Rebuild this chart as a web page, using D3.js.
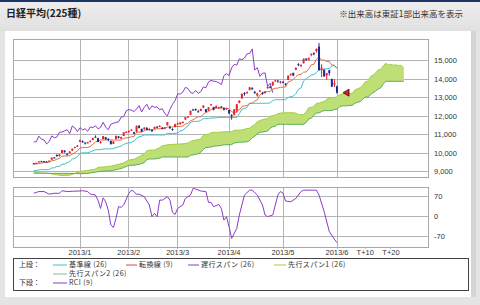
<!DOCTYPE html>
<html><head><meta charset="utf-8">
<script src="https://cdn.jsdelivr.net/npm/d3@7"></script>
<style>
html,body{margin:0;padding:0;}
body{width:480px;height:305px;overflow:hidden;background:#e4e4e4;}
svg{display:block;}
</style></head><body>
<svg id="c" width="480" height="305"></svg>
<script>
// ---- data (daily, index 0 = 2012/12/4 ... 118 = 2013/6/3) ----
const openP = [9440,9420,9500,9560,9560,9540,9560,9640,9760,9900,9840,10000,10130,9960,10000,10130,10280,10340,
10600,10640,10560,10540,10610,10700,10880,10800,10550,10750,10850,10760,10650,10500,10750,10900,10780,10920,11120,
11150,11250,11130,11150,11480,11300,11300,11350,11250,11250,11310,11430,11420,11380,11330,11500,11400,11300,11400,
11580,11560,11620,11810,11940,12060,12350,12380,12250,12280,12450,12370,12300,12590,12480,12430,12440,12510,12420,12380,
12320,12050,12050,12300,12700,12950,13250,13250,13400,13520,13300,13100,13320,13250,13250,13500,13590,13650,13900,13920,13800,
13850,13750,13950,14250,14330,14500,14800,14700,14850,15100,15050,15300,15400,15500,15750,14500,14500,14200,14470,14000,13700,
13600];
const highP = [9460,9480,9560,9580,9570,9560,9600,9760,9780,9920,9940,10170,10150,9990,10100,10240,10340,10430,
10734,10680,10580,10600,10680,10830,10950,10820,10650,10920,10870,10800,10660,10640,10940,10920,10880,11130,11180,
11220,11300,11140,11490,11500,11320,11400,11400,11330,11260,11430,11440,11500,11390,11400,11670,11480,11330,11580,
11640,11660,11700,11940,12000,12290,12390,12400,12320,12400,12580,12380,12480,12650,12500,12560,12500,12530,12460,12420,
12330,12100,12370,12650,12850,13220,13280,13330,13570,13550,13360,13250,13400,13300,13330,13580,13610,13860,13960,13930,13900,
13880,13770,14190,14290,14340,14620,14850,14790,15100,15120,15160,15380,15440,15650,15942,14800,14520,14340,14500,14020,13990,
13650];
const lowP = [9410,9410,9480,9500,9500,9500,9540,9630,9710,9800,9800,9990,10020,9860,9970,10110,10250,10320,
10590,10550,10460,10510,10580,10690,10840,10580,10500,10740,10720,10630,10450,10480,10740,10780,10760,10910,11080,
11090,11200,11020,11130,11330,11130,11250,11220,11200,11140,11300,11340,11400,11280,11290,11480,11300,11200,11390,
11520,11530,11600,11800,11900,12050,12290,12280,12200,12260,12430,12200,12290,12560,12300,12420,12400,12430,12300,12340,
12120,11805,12040,12180,12690,12940,13100,13200,13390,13400,13200,13050,13300,13150,13200,13480,13490,13630,13850,13800,13750,
13770,13640,13940,14160,14150,14480,14700,14650,14840,14980,15000,15230,15280,15430,14450,14100,14120,13950,14180,13560,13560,
13210];
const closeP = [9432,9468,9545,9527,9533,9525,9581,9743,9737,9828,9924,10160,10039,9940,10080,10230,10322,10395,
10688,10599,10508,10578,10652,10801,10879,10600,10610,10913,10747,10709,10487,10620,10926,10824,10866,11113,11138,
11191,11260,11046,11463,11357,11153,11369,11251,11307,11173,11407,11372,11468,11309,11385,11662,11398,11253,11559,
11606,11652,11683,11932,11968,12283,12349,12314,12239,12381,12560,12220,12468,12635,12338,12546,12471,12493,12336,12397,
12135,12003,12362,12634,12833,13192,13192,13288,13549,13485,13275,13221,13382,13220,13316,13568,13529,13843,13926,13884,13860,
13799,13694,14180,14285,14191,14607,14782,14758,15096,15037,15138,15360,15381,15627,14483,14612,14142,14311,14326,13589,13774,
13261];
// 転換線 (9)
const tenkan = [9400,9410,9420,9450,9480,9490,9510,9585,9595,9665,9710,9835,9835,9835,9855,9935,10025,10115,
10267,10297,10297,10297,10352,10470,10600,10635,10705,10705,10705,10725,10700,10700,10700,10695,10695,10790,10815,
10835,10875,10890,11115,11130,11130,11205,11260,11260,11260,11260,11315,11315,11315,11320,11405,11405,11405,11435,
11435,11435,11450,11570,11600,11745,11795,11895,11960,11965,12090,12190,12240,12350,12425,12425,12425,12425,12425,12425,
12385,12228,12183,12228,12328,12513,12543,12568,12688,12688,12805,12875,13130,13255,13310,13315,13330,13455,13505,13505,13555,
13555,13580,13835,13890,13985,14130,14245,14245,14370,14380,14550,14765,14795,15065,15196,15021,15021,14946,14946,14751,14751,
14576];
// 基準線 (26)
const kijun = [9050,9050,9090,9100,9100,9100,9110,9190,9200,9270,9280,9395,9395,9475,9535,9670,9720,9790,
9982,10007,10007,10017,10057,10120,10180,10180,10180,10215,10225,10225,10225,10245,10290,10330,10375,10465,10520,
10540,10580,10635,10800,10875,10910,10975,10975,10975,10975,10975,10975,10975,10975,10975,11060,11060,11060,11060,
11075,11205,11230,11350,11455,11655,11705,11710,11710,11765,11855,11855,11860,11895,11895,11895,11925,11925,11925,11925,
11925,11925,11925,11925,12120,12370,12405,12465,12685,12688,12688,12688,12688,12688,12688,12693,12708,12833,12883,12883,12883,
12883,12883,12998,13048,13073,13213,13445,13515,13895,14030,14105,14215,14245,14350,14496,14496,14546,14546,14571,14711,14716,
14576];
// 先行スパン1 / 先行スパン2 (26), positions incl. future days
const spanIdx = [0,3,6,8,11,14,18,21,24,25,28,30,33,35,37,39,41,43,44,45,47,49,50,52,55,58,60,61,62,64,65,66,67,68,69,70,72,74,77,78,80,81,83,84,85,86,87,88,89,91,92,93,94,95,96,98,101,102,103,105,106,107,108,109,110,111,112,113,114,115,116,117,118,119,120,122,124,125,126,127,128,129,130,131,132,133,134,135,136,137,138,139,140,141,142,143,144];
const span1 = [8930,8920,8900,8840,8780,8800,9000,9060,9130,9225,9255,9290,9388,9468,9615,9655,9803,9953,10125,10152,10157,10295,10390,10443,10475,10495,10535,10628,10668,10728,10763,10958,11003,11020,11090,11118,11118,11145,11148,11233,11233,11248,11320,11340,11460,11528,11700,11750,11803,11865,11973,12023,12050,12123,12160,12175,12175,12155,12077,12077,12224,12442,12473,12517,12687,12688,12747,12782,12909,12972,12999,13004,13019,13144,13194,13219,13232,13417,13469,13529,13672,13845,13880,14133,14205,14328,14490,14520,14708,14846,14759,14784,14746,14759,14731,14734,14576];
const span2 = [8910,8910,8900,8900,8900,8900,8880,8900,8960,8990,9030,9040,9130,9210,9335,9335,9390,9480,9640,9677,9677,9725,9785,9785,9785,9785,9785,9875,9900,9960,10040,10195,10300,10300,10325,10365,10390,10440,10455,10540,10585,10585,10605,10665,10825,10900,11045,11125,11130,11185,11345,11415,11450,11550,11550,11550,11550,11550,11550,11550,11650,11835,11880,12035,12165,12165,12240,12295,12295,12295,12295,12355,12370,12495,12550,12550,12580,12695,12745,12770,12910,13025,13025,13150,13255,13340,13455,13520,13725,13874,13874,13874,13874,13874,13874,13874,13874];
const chikouShift = 25; // 遅行スパン drawn from closeP
// RCI (9)
const rciDay = [0,2,4,6,8,10,11,13,15,18,19,21,22,24,25,26,27,28,29,30,31,32,33,34,35,37,38,39,40,41,43,45,46,47,48,49,50,52,53,54,55,56,58,59,61,62,63,65,67,68,69,70,72,73,74,75,76,77,79,80,82,84,85,87,89,90,91,93,95,96,97,98,100,102,104,105,109,110,111,113,115,117,118];
const rciVal = [82,88,88,79,82,82,91,88,89,90,91,88,79,76,58,29,66,52,23,-29,-38,-6,35,33,41,82,93,88,78,79,70,41,0,12,0,58,58,70,58,15,8,29,41,64,76,99,97,90,88,50,50,35,43,29,-12,0,-35,-76,-41,6,76,93,93,76,41,6,0,6,76,88,82,55,52,64,88,93,93,93,76,18,-52,-79,-91];
// axes
const xTickLabels = ["2013/1","2013/2","2013/3","2013/4","2013/5","2013/6","T+10","T+20"];
const xTickIdx = [18,37,56,76,97,118,129,139];
const gridCount = 6;
const priceTicks = [9000,10000,11000,12000,13000,14000,15000];
const rciTicks = [70,0,-70];

// ---- layout ----
const L = 13.5, R = 428, mT = 39.5, mB = 177, rT = 187.5, rB = 247;
const x = d3.scaleLinear().domain([18,118]).range([80,337]);
const y = d3.scaleLinear().domain([9000,15000]).range([171.5,60.5]);
const yr = d3.scaleLinear().domain([-70,70]).range([236.7,196.7]);

const svg = d3.select("#c");
const defs = svg.append("defs");
const gr = defs.append("linearGradient").attr("id","bg").attr("x1",0).attr("y1",0).attr("x2",0).attr("y2",1);
gr.append("stop").attr("offset","0%").attr("stop-color","#efefef");
gr.append("stop").attr("offset","100%").attr("stop-color","#e0e0e0");
defs.append("clipPath").attr("id","cm").append("rect").attr("x",L).attr("y",mT).attr("width",R-L).attr("height",mB-mT);
defs.append("clipPath").attr("id","cr").append("rect").attr("x",L).attr("y",rT).attr("width",R-L).attr("height",rB-rT);

svg.append("rect").attr("width",480).attr("height",305).attr("fill","#e4e4e4");
svg.append("rect").attr("width",480).attr("height",31).attr("fill","url(#bg)");
svg.append("rect").attr("width",480).attr("height",2).attr("fill","#1d3565");
svg.append("rect").attr("x",5).attr("y",31).attr("width",466).attr("height",266).attr("fill","#fff");
svg.append("rect").attr("x",471).attr("y",31).attr("width",5).attr("height",266).attr("fill","#d4d4d4");

const JP = "'Noto Sans CJK JP','Noto Sans',sans-serif";
const NUM = "'Liberation Sans',Arial,sans-serif";
svg.append("text").attr("x",6).attr("y",17).attr("font-family",JP).attr("font-size",10).attr("font-weight","bold").attr("fill","#222").text("日経平均(225種)");
svg.append("text").attr("x",463).attr("y",16.5).attr("text-anchor","end").attr("font-family",JP).attr("font-size",8.5).attr("fill","#333").text("※出来高は東証1部出来高を表示");

// panels
[[mT,mB],[rT,rB]].forEach(([t,b])=>{
  svg.append("rect").attr("x",L).attr("y",t).attr("width",R-L).attr("height",b-t).attr("fill","#fff");
});
const grid = svg.append("g").attr("stroke","#b4b4b4").attr("stroke-width",1).attr("shape-rendering","crispEdges");
priceTicks.forEach(p=>grid.append("line").attr("x1",L).attr("x2",R).attr("y1",y(p)).attr("y2",y(p)));
rciTicks.forEach(p=>grid.append("line").attr("x1",L).attr("x2",R).attr("y1",yr(p)).attr("y2",yr(p)));
xTickIdx.slice(0,gridCount).forEach(i=>{
  grid.append("line").attr("x1",x(i)).attr("x2",x(i)).attr("y1",mT).attr("y2",mB);
  grid.append("line").attr("x1",x(i)).attr("x2",x(i)).attr("y1",rT).attr("y2",rB);
});
xTickIdx.forEach(i=>grid.append("line").attr("x1",x(i)).attr("x2",x(i)).attr("y1",rB).attr("y2",rB+2));

// cloud
const cloud = spanIdx.map((d,k)=>({i:d,a:span1[k],b:span2[k]}));
const mg = svg.append("g").attr("clip-path","url(#cm)");
mg.append("path").datum(cloud).attr("fill","#bedf76")
  .attr("d",d3.area().x(d=>x(d.i)).y0(d=>y(d.b)).y1(d=>y(d.a)));
mg.append("path").datum(cloud).attr("fill","none").attr("stroke","#a6cc42").attr("stroke-width",1)
  .attr("d",d3.line().x(d=>x(d.i)).y(d=>y(d.a)));
mg.append("path").datum(cloud).attr("fill","none").attr("stroke","#5cae5c").attr("stroke-width",1)
  .attr("d",d3.line().x(d=>x(d.i)).y(d=>y(d.b)));

// lines
const days = closeP.map((c,i)=>i);
const line = d3.line().x(d=>x(d[0])).y(d=>y(d[1]));
mg.append("path").datum(days.map(i=>[i,kijun[i]])).attr("fill","none").attr("stroke","#3fc0cc").attr("stroke-width",1).attr("d",line);
mg.append("path").datum(days.map(i=>[i,tenkan[i]])).attr("fill","none").attr("stroke","#e0703c").attr("stroke-width",1).attr("d",line);
mg.append("path").datum(days.filter(i=>i+chikouShift<closeP.length).map(i=>[i,closeP[i+chikouShift]]))
  .attr("fill","none").attr("stroke","#8a3cc8").attr("stroke-width",1).attr("d",line);

// candles
const cg = mg.append("g");
days.forEach(i=>{
  const up = closeP[i] >= openP[i];
  const col = up ? "#e8222e" : "#1c2c8c";
  const cx = x(i);
  cg.append("line").attr("x1",cx).attr("x2",cx).attr("y1",y(highP[i])).attr("y2",y(lowP[i])).attr("stroke",col).attr("stroke-width",1);
  const t = y(Math.max(openP[i],closeP[i])), b = y(Math.min(openP[i],closeP[i]));
  cg.append("rect").attr("x",cx-1).attr("y",t).attr("width",2).attr("height",Math.max(1,b-t)).attr("fill",col);
});
// last-price marker
const lx = x(days.length-1), ly = y(closeP[closeP.length-1]);
svg.append("path").attr("d",`M${lx+6},${ly} L${lx+12},${ly-3.5} L${lx+12},${ly+3.5} Z`)
  .attr("fill","#e21b1b").attr("stroke","#3a0a0a").attr("stroke-width",0.8);

// RCI
const rg = svg.append("g").attr("clip-path","url(#cr)");
rg.append("path").datum(rciDay.map((d,k)=>[d,rciVal[k]])).attr("fill","none").attr("stroke","#8a3cc8").attr("stroke-width",1)
  .attr("d",d3.line().x(d=>x(d[0])).y(d=>yr(d[1])));

// borders
[[mT,mB],[rT,rB]].forEach(([t,b])=>{
  svg.append("rect").attr("x",L).attr("y",t).attr("width",R-L).attr("height",b-t).attr("fill","none").attr("stroke","#a8a8a8").attr("shape-rendering","crispEdges");
});

// axis labels
const fmt = d3.format(",");
priceTicks.forEach(p=>svg.append("text").attr("x",434).attr("y",y(p)).attr("dy","0.35em").attr("font-family",NUM).attr("font-size",7.5).attr("fill","#333").text(fmt(p)));
rciTicks.forEach(p=>svg.append("text").attr("x",434).attr("y",yr(p)).attr("dy","0.35em").attr("font-family",NUM).attr("font-size",7.5).attr("fill","#333").text(p<0?"-"+Math.abs(p):p));
xTickIdx.forEach((i,k)=>svg.append("text").attr("x",x(i)).attr("y",252.5).attr("dy","0.35em").attr("text-anchor","middle").attr("font-family",NUM).attr("font-size",7.5).attr("fill","#333").text(xTickLabels[k]));

// legend
svg.append("rect").attr("x",13.5).attr("y",258.5).attr("width",454.5).attr("height",31.5).attr("fill","#fff").attr("stroke","#444").attr("shape-rendering","crispEdges");
const legRows = [265,274,283];
const legendItems = [
  {row:0,x1:53,x2:67,tx:69,color:"#3fc0cc",label:"基準線 (26)"},
  {row:0,x1:126,x2:137,tx:139,color:"#d84848",label:"転換線 (9)"},
  {row:0,x1:188,x2:199,tx:201,color:"#8a3cc8",label:"遅行スパン (26)"},
  {row:0,x1:274,x2:286,tx:288,color:"#b4c83c",label:"先行スパン1 (26)"},
  {row:1,x1:53,x2:67,tx:69,color:"#84b8a0",label:"先行スパン2 (26)"},
  {row:2,x1:53,x2:67,tx:69,color:"#8a3cc8",label:"RCI (9)"}
];
[["上段：",0],["下段：",2]].forEach(([t,r])=>svg.append("text").attr("x",19).attr("y",legRows[r]).attr("dy","0.35em").attr("font-family",JP).attr("font-size",7).attr("fill","#333").text(t));
legendItems.forEach(d=>{
  svg.append("line").attr("x1",d.x1).attr("x2",d.x2).attr("y1",legRows[d.row]).attr("y2",legRows[d.row]).attr("stroke",d.color).attr("stroke-width",1);
  svg.append("text").attr("x",d.tx).attr("y",legRows[d.row]).attr("dy","0.35em").attr("font-family",JP).attr("font-size",7).attr("letter-spacing","0.4").attr("fill","#333").text(d.label);
});
</script>
</body></html>
